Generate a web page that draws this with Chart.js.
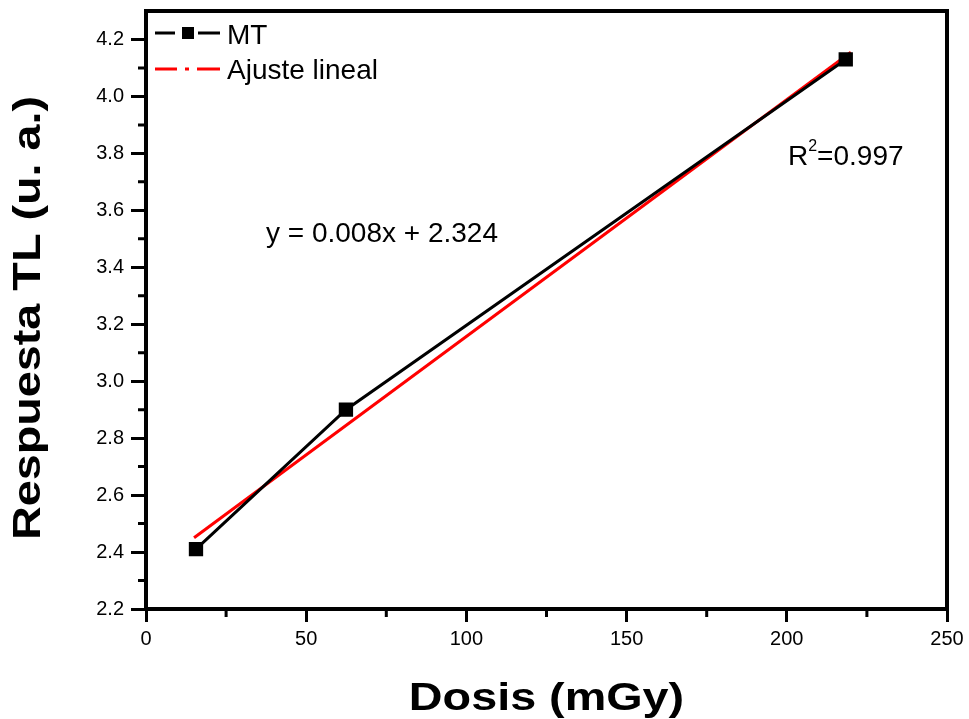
<!DOCTYPE html>
<html>
<head>
<meta charset="utf-8">
<script src="https://cdn.jsdelivr.net/npm/chart.js@4.4.1/dist/chart.umd.min.js"></script>
<style>
  html, body { margin: 0; padding: 0; background: #fff; }
  canvas { display: block; }
</style>
</head>
<body>
<canvas id="doseChart" width="969" height="719"></canvas>
<script>
// measured points (MT)
const dose = [15.6, 62.4, 218.4];
const response = [2.41, 2.90, 4.13];
// linear fit end points
const fitDose = [15, 220];
const fitResponse = [2.45, 4.155];

const xTicks = [0, 50, 100, 150, 200, 250];
const yTicks = [2.2, 2.4, 2.6, 2.8, 3.0, 3.2, 3.4, 3.6, 3.8, 4.0, 4.2];
const xMinor = [25, 75, 125, 175, 225];
const yMinor = [2.3, 2.5, 2.7, 2.9, 3.1, 3.3, 3.5, 3.7, 3.9, 4.1];

const FONT = 'Arial, "Liberation Sans", sans-serif';

const noPad = (s) => {
  s.paddingTop = 0; s.paddingBottom = 0; s.paddingLeft = 0; s.paddingRight = 0;
};

const framePlugin = {
  id: 'frame',
  afterDraw(chart) {
    const { ctx, chartArea: a, scales } = chart;
    ctx.save();
    // box
    ctx.strokeStyle = '#000';
    ctx.lineWidth = 4;
    ctx.strokeRect(a.left, a.top, a.right - a.left, a.bottom - a.top);

    // minor ticks
    ctx.lineWidth = 3;
    ctx.beginPath();
    xMinor.forEach(v => {
      const px = scales.x.getPixelForValue(v);
      ctx.moveTo(px, a.bottom);
      ctx.lineTo(px, a.bottom + 8);
    });
    yMinor.forEach(v => {
      const py = scales.y.getPixelForValue(v);
      ctx.moveTo(a.left, py);
      ctx.lineTo(a.left - 8, py);
    });
    ctx.stroke();

    // axis titles (the original lettering is wide, so stretch it a bit)
    ctx.fillStyle = '#000';
    ctx.font = 'bold 38px ' + FONT;
    ctx.textAlign = 'center';
    ctx.textBaseline = 'alphabetic';
    ctx.save();
    ctx.translate((a.left + a.right) / 2, 710);
    ctx.scale(1.23, 1);
    ctx.fillText('Dosis (mGy)', 0, 0);
    ctx.restore();
    ctx.save();
    ctx.translate(40, (a.top + a.bottom) / 2 + 8);
    ctx.rotate(-Math.PI / 2);
    ctx.scale(1.23, 1);
    ctx.fillText('Respuesta TL (u. a.)', 0, 0);
    ctx.restore();

    // legend
    ctx.textAlign = 'left';
    ctx.font = '28px ' + FONT;
    ctx.textBaseline = 'alphabetic';
    const lx = a.left + 9;
    let ly = 33;
    ctx.lineWidth = 3;
    ctx.strokeStyle = '#000';
    ctx.beginPath();
    ctx.moveTo(lx, ly); ctx.lineTo(lx + 20, ly);
    ctx.moveTo(lx + 43, ly); ctx.lineTo(lx + 65, ly);
    ctx.stroke();
    ctx.fillRect(lx + 27, ly - 6, 12, 12);
    ctx.fillText('MT', lx + 72, ly + 11);

    ly = 69;
    ctx.strokeStyle = '#ff0000';
    ctx.beginPath();
    ctx.moveTo(lx, ly); ctx.lineTo(lx + 22, ly);
    ctx.moveTo(lx + 30, ly); ctx.lineTo(lx + 34, ly);
    ctx.moveTo(lx + 42, ly); ctx.lineTo(lx + 65, ly);
    ctx.stroke();
    ctx.fillText('Ajuste lineal', lx + 72, ly + 10);

    // annotations
    ctx.fillText('y = 0.008x + 2.324', 266, 242);
    const rx = 788, ry = 165;
    ctx.fillText('R', rx, ry);
    const rw = ctx.measureText('R').width;
    ctx.font = '16px ' + FONT;
    ctx.fillText('2', rx + rw, ry - 14);
    const sw = ctx.measureText('2').width;
    ctx.font = '28px ' + FONT;
    ctx.fillText('=0.997', rx + rw + sw, ry);
    ctx.restore();
  }
};

new Chart(document.getElementById('doseChart').getContext('2d'), {
  type: 'line',
  data: {
    datasets: [
      {
        label: 'MT',
        data: dose.map((x, i) => ({ x, y: response[i] })),
        borderColor: '#000',
        backgroundColor: '#000',
        borderWidth: 3,
        pointStyle: 'rect',
        pointRadius: 8,
        pointHoverRadius: 8,
        tension: 0,
      },
      {
        label: 'Ajuste lineal',
        data: fitDose.map((x, i) => ({ x, y: fitResponse[i] })),
        borderColor: '#ff0000',
        backgroundColor: '#ff0000',
        borderWidth: 3,
        pointRadius: 0,
        tension: 0,
      },
    ],
  },
  options: {
    responsive: false,
    animation: false,
    layout: { padding: { top: 11, right: 22, left: 0, bottom: 0 } },
    plugins: {
      legend: { display: false },
      tooltip: { enabled: false },
    },
    scales: {
      x: {
        type: 'linear',
        min: 0,
        max: 250,
        afterFit: (s) => { s.height = 110; noPad(s); },
        afterBuildTicks: (s) => { s.ticks = xTicks.map(v => ({ value: v })); },
        grid: { drawOnChartArea: false, tickLength: 13, tickWidth: 3, tickColor: '#000' },
        border: { display: false },
        ticks: { color: '#000', padding: 5, font: { family: FONT, size: 20 } },
      },
      y: {
        min: 2.2,
        max: 4.3,
        afterFit: (s) => { s.width = 146; noPad(s); },
        afterBuildTicks: (s) => { s.ticks = yTicks.map(v => ({ value: v })); },
        grid: { drawOnChartArea: false, tickLength: 15, tickWidth: 3, tickColor: '#000' },
        border: { display: false },
        ticks: {
          color: '#000',
          padding: 7,
          font: { family: FONT, size: 20 },
          callback: (v) => Number(v).toFixed(1),
        },
      },
    },
  },
  plugins: [framePlugin],
});
</script>
</body>
</html>
